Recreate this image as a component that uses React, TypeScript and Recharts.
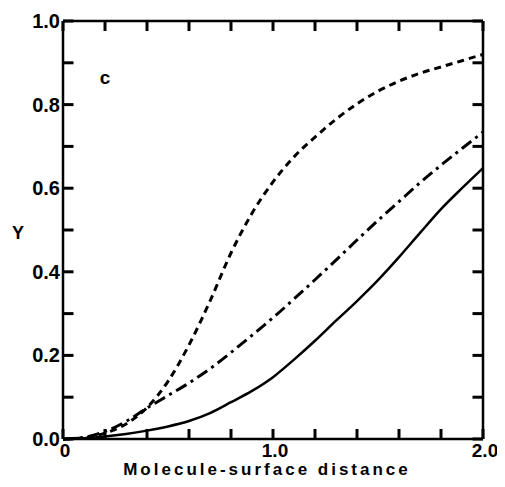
import { LineChart, Line, XAxis, YAxis, ReferenceDot, ReferenceLine } from "recharts";

// distance grid and the three curves
const distance = [0, 0.1, 0.2, 0.3, 0.4, 0.5, 0.6, 0.7, 0.8, 0.9, 1.0, 1.1, 1.2, 1.3, 1.4, 1.5, 1.6, 1.7, 1.8, 1.9, 2.0];
const dashed = [0, 0.003, 0.014, 0.036, 0.075, 0.138, 0.225, 0.33, 0.445, 0.54, 0.615, 0.675, 0.722, 0.765, 0.802, 0.832, 0.856, 0.875, 0.89, 0.905, 0.92];
const dashDot = [0, 0.004, 0.018, 0.042, 0.074, 0.104, 0.134, 0.168, 0.207, 0.248, 0.29, 0.335, 0.381, 0.428, 0.476, 0.523, 0.568, 0.613, 0.655, 0.695, 0.734];
const solid = [0, 0.002, 0.006, 0.012, 0.02, 0.03, 0.043, 0.062, 0.088, 0.115, 0.148, 0.19, 0.235, 0.283, 0.33, 0.38, 0.435, 0.493, 0.55, 0.6, 0.648];

const xTicks = [0, 0.2, 0.4, 0.6, 0.8, 1.0, 1.2, 1.4, 1.6, 1.8, 2.0];
const xLabels: Record<string, string> = { "0": "0", "1": "1.0", "2": "2.0" };
const yTicks = [0, 0.1, 0.2, 0.3, 0.4, 0.5, 0.6, 0.7, 0.8, 0.9, 1.0];
const yLabels = [0, 0.2, 0.4, 0.6, 0.8, 1.0];

const data = distance.map((d, i) => ({
  d,
  dashed: dashed[i],
  dashDot: dashDot[i],
  solid: solid[i],
}));

const FONT = "'Liberation Sans', Arial, sans-serif";
const frame = { stroke: "#000", strokeWidth: 2.5 };

// inward tick marks, in data units (about 10px long)
const TICK_X = 0.05;
const TICK_Y = 0.024;

const BottomTick = (props: any) => {
  const { x, y, payload } = props;
  const lbl = xLabels[String(Math.round(payload.value * 100) / 100)];
  if (!lbl) return <g />;
  return (
    <text x={x + 2} y={y + 18} textAnchor="middle" fontFamily={FONT} fontWeight={700} fontSize={19} fill="#000">
      {lbl}
    </text>
  );
};

const LeftTick = (props: any) => {
  const { x, y, payload } = props;
  const v = Math.round(payload.value * 10) / 10;
  const show = yLabels.some((l) => Math.abs(l - v) < 1e-6);
  if (!show) return <g />;
  return (
    <text x={x - 3} y={y + 7} textAnchor="end" fontFamily={FONT} fontWeight={700} fontSize={20} fill="#000">
      {v.toFixed(1)}
    </text>
  );
};

const App = () => {
  return (
    <LineChart
      width={497}
      height={471}
      data={data}
      margin={{ top: 12, right: 21, left: 0, bottom: 0 }}
    >
      <XAxis
        xAxisId="b"
        dataKey="d"
        type="number"
        domain={[0, 2]}
        ticks={xTicks}
        interval={0}
        height={40}
        tickLine={false}
        tickSize={0}
        tickMargin={0}
        tick={<BottomTick />}
        axisLine={frame}
        label={{
          content: ({ viewBox }: any) => (
            <text
              x={viewBox.x + viewBox.width / 2 - 6}
              y={viewBox.y + 36}
              textAnchor="middle"
              fontFamily={FONT}
              fontWeight={700}
              fontSize={17}
              letterSpacing={3}
              fill="#000"
            >
              Molecule-surface distance
            </text>
          ),
        }}
      />
      <XAxis
        xAxisId="t"
        orientation="top"
        dataKey="d"
        type="number"
        domain={[0, 2]}
        height={1}
        tickLine={false}
        tick={false}
        axisLine={frame}
      />
      <YAxis
        yAxisId="l"
        type="number"
        domain={[0, 1]}
        ticks={yTicks}
        interval={0}
        width={55}
        tickLine={false}
        tickSize={0}
        tickMargin={0}
        tick={<LeftTick />}
        axisLine={frame}
        label={{
          content: ({ viewBox }: any) => (
            <text
              x={viewBox.x + 10}
              y={viewBox.y + viewBox.height / 2 + 9}
              textAnchor="middle"
              fontFamily={FONT}
              fontWeight={700}
              fontSize={18}
              fill="#000"
            >
              Y
            </text>
          ),
        }}
      />
      <YAxis
        yAxisId="r"
        orientation="right"
        type="number"
        domain={[0, 1]}
        width={1}
        tickLine={false}
        tick={false}
        axisLine={frame}
      />
      {xTicks.map((t) => (
        <ReferenceLine
          key={"b" + t}
          xAxisId="b"
          yAxisId="l"
          segment={[{ x: t, y: 0 }, { x: t, y: TICK_Y }]}
          stroke="#000"
          strokeWidth={3}
          ifOverflow="visible"
        />
      ))}
      {xTicks.map((t) => (
        <ReferenceLine
          key={"t" + t}
          xAxisId="b"
          yAxisId="l"
          segment={[{ x: t, y: 1 }, { x: t, y: 1 - TICK_Y }]}
          stroke="#000"
          strokeWidth={3}
          ifOverflow="visible"
        />
      ))}
      {yTicks.map((t) => (
        <ReferenceLine
          key={"l" + t}
          xAxisId="b"
          yAxisId="l"
          segment={[{ x: 0, y: t }, { x: TICK_X, y: t }]}
          stroke="#000"
          strokeWidth={3}
          ifOverflow="visible"
        />
      ))}
      {yTicks.map((t) => (
        <ReferenceLine
          key={"r" + t}
          xAxisId="b"
          yAxisId="l"
          segment={[{ x: 2, y: t }, { x: 2 - TICK_X, y: t }]}
          stroke="#000"
          strokeWidth={3}
          ifOverflow="visible"
        />
      ))}
      <ReferenceDot
        xAxisId="b"
        yAxisId="l"
        x={0.2}
        y={0.866}
        r={0}
        fill="none"
        stroke="none"
        label={{ value: "c", position: "center", fontFamily: FONT, fontWeight: 700, fontSize: 19, fill: "#000" }}
      />
      {/* invisible copy so the top and right frame axes get drawn */}
      <Line xAxisId="t" yAxisId="r" type="monotone" dataKey="solid" stroke="none" dot={false} activeDot={false} legendType="none" isAnimationActive={false} />
      <Line xAxisId="b" yAxisId="l" type="monotone" dataKey="dashed" stroke="#000" strokeWidth={3} strokeDasharray="7 5" dot={false} isAnimationActive={false} />
      <Line xAxisId="b" yAxisId="l" type="monotone" dataKey="dashDot" stroke="#000" strokeWidth={3} strokeDasharray="12 5 3 5" dot={false} isAnimationActive={false} />
      <Line xAxisId="b" yAxisId="l" type="monotone" dataKey="solid" stroke="#000" strokeWidth={2.5} dot={false} isAnimationActive={false} />
    </LineChart>
  );
};

export default App;
